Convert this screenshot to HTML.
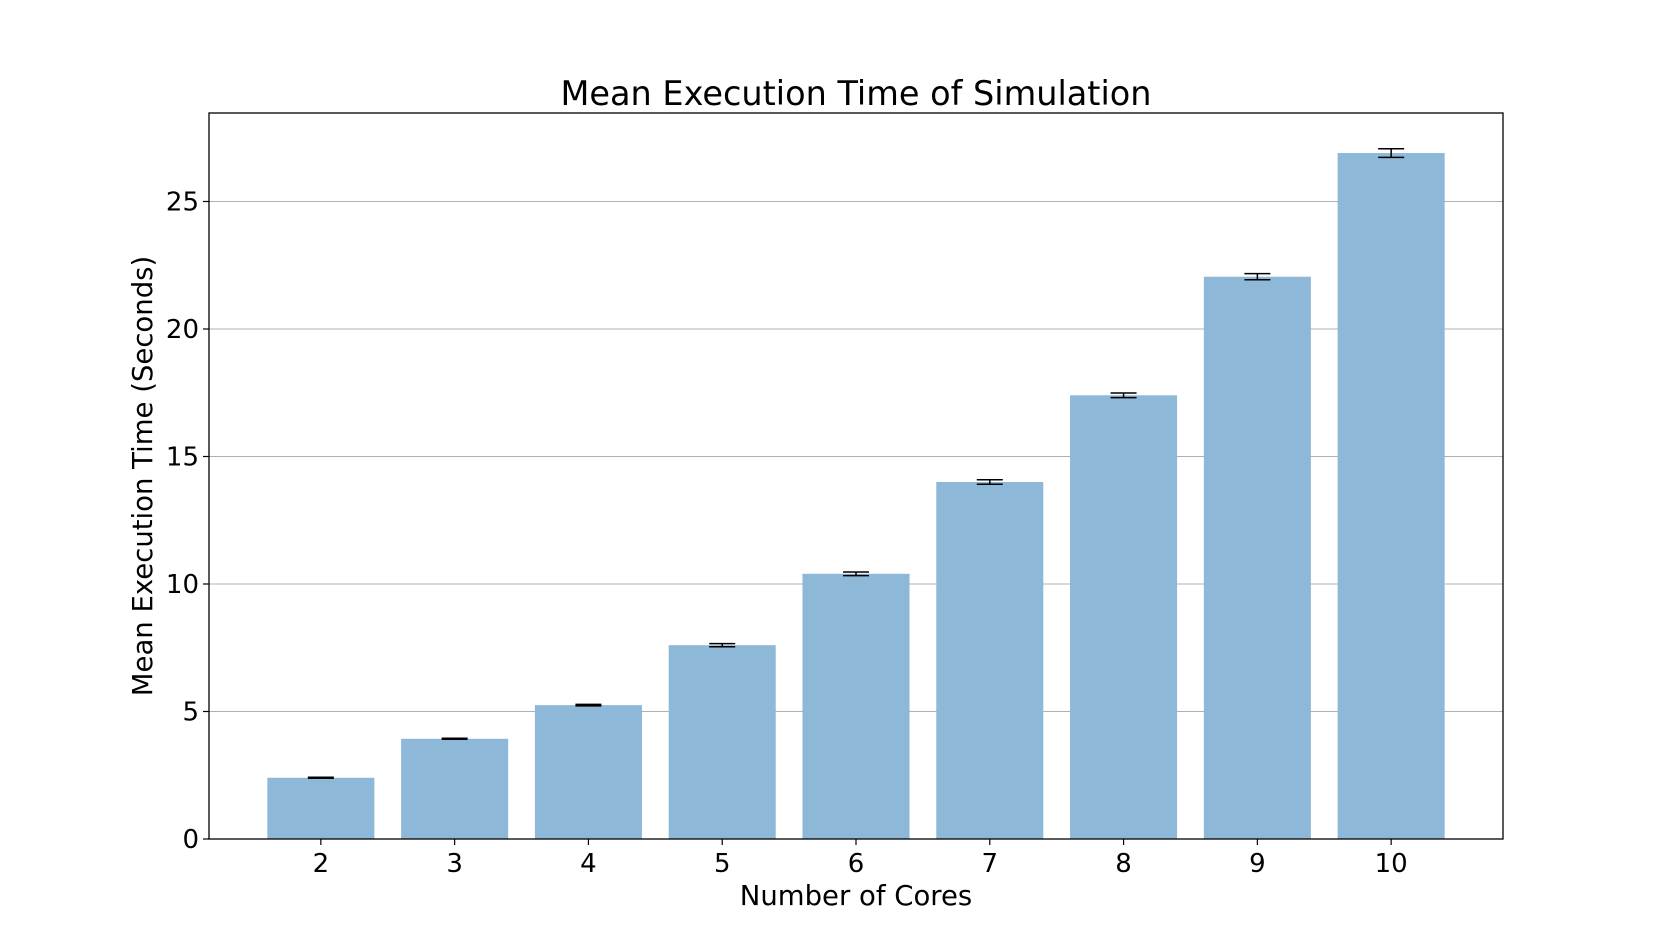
<!DOCTYPE html>
<html><head><meta charset="utf-8"><style>
body{margin:0;background:#fff}
svg{display:block;font-family:"DejaVu Sans","Liberation Sans",sans-serif}
</style></head><body>
<svg id="chart" width="1670" height="943">
<text x="856" y="105" font-size="33.5" text-anchor="middle">Mean Execution Time of Simulation</text>
<text x="856" y="905" font-size="27.5" text-anchor="middle">Number of Cores</text>
<text transform="translate(152,476) rotate(-90)" font-size="27.5" text-anchor="middle">Mean Execution Time (Seconds)</text>
<g id="grid"></g><g id="bars"></g><g id="ticks"></g>
<rect x="209" y="113" width="1294" height="726" fill="none" stroke="#000" stroke-width="1.3"/>
</svg>
<script>
const categories=[2,3,4,5,6,7,8,9,10];
const values=[2.4,3.93,5.25,7.6,10.4,14.0,17.4,22.05,26.9];
const errors=[0.02,0.02,0.03,0.06,0.07,0.09,0.09,0.12,0.17];
const yTicks=[0,5,10,15,20,25];
const NS="http://www.w3.org/2000/svg";
const L=209,R=1503,T=113,B=839,xmin=1.164,xmax=10.836,ymax=28.47;
const X=v=>L+(v-xmin)/(xmax-xmin)*(R-L);
const Y=v=>B-v/ymax*(B-T);
function mk(t,a,p){const e=document.createElementNS(NS,t);for(const k in a)e.setAttribute(k,a[k]);document.getElementById(p).appendChild(e);return e;}
yTicks.forEach(t=>{
  const g=mk('line',{x1:L,x2:R,y1:Y(t),y2:Y(t),stroke:'#b0b0b0','stroke-width':1},'grid');
  
  
  const tk=mk('line',{x1:L-6,x2:L,y1:Y(t),y2:Y(t),stroke:'#000','stroke-width':1.2},'ticks');
  
  
  const tx=mk('text',{x:L-10,y:Y(t)+9,'font-size':26,'text-anchor':'end'},'ticks');tx.textContent=t;
  
  
});
const bw=0.8*(X(1)-X(0));
categories.forEach((c,i)=>{
  const cx=X(c),v=values[i],e=errors[i];
  const b=mk('rect',{x:cx-bw/2,y:Y(v),width:bw,height:B-Y(v),fill:'#8db8d8'},'bars');
  
  
  const eb=mk('path',{d:`M${cx},${Y(v-e)}V${Y(v+e)}M${cx-13},${Y(v-e)}H${cx+13}M${cx-13},${Y(v+e)}H${cx+13}`,stroke:'#000','stroke-width':1.5,fill:'none'},'bars');
  
  
  const tk=mk('line',{x1:cx,x2:cx,y1:B,y2:B+6,stroke:'#000','stroke-width':1.2},'ticks');
  
  
  const tx=mk('text',{x:cx,y:B+33,'font-size':26,'text-anchor':'middle'},'ticks');tx.textContent=c;
  
  
});
</script>
</body></html>
